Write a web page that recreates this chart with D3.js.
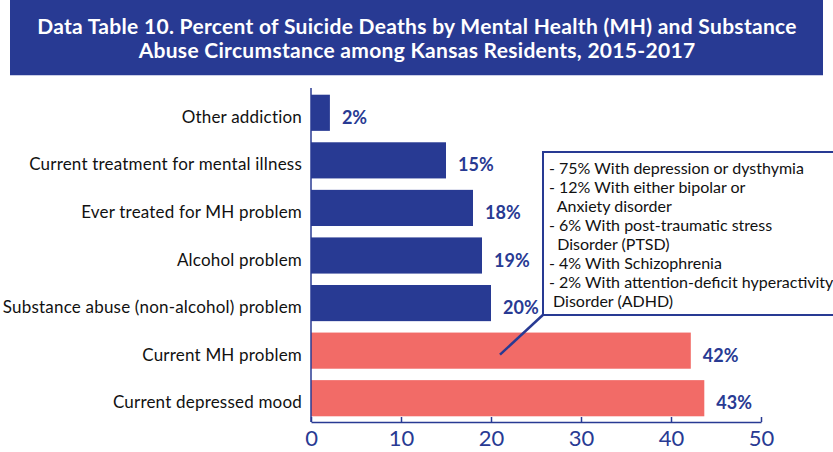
<!DOCTYPE html>
<html>
<head>
<meta charset="utf-8">
<script src="https://cdn.jsdelivr.net/npm/d3@7"></script>
<style>
  body { margin: 0; background: #fff; }
  svg { display: block; font-family: Lato, "Open Sans", sans-serif; }
</style>
</head>
<body>
<svg id="chart" width="833" height="452"></svg>
<script>
// data
const categories = ["Other addiction", "Current treatment for mental illness", "Ever treated for MH problem",
    "Alcohol problem", "Substance abuse (non-alcohol) problem", "Current MH problem", "Current depressed mood"];
const values = [2.1, 15, 18, 19, 20, 42.2, 43.7];
const valueLabels = ["2%", "15%", "18%", "19%", "20%", "42%", "43%"];
const groups = ["other", "other", "other", "other", "other", "mh", "mh"];
const xTicks = [0, 10, 20, 30, 40, 50];
const titleLines = ["Data Table 10. Percent of Suicide Deaths by Mental Health (MH) and Substance",
    "Abuse Circumstance among Kansas Residents, 2015-2017"];
const noteLines = ["- 75% With depression or dysthymia", "- 12% With either bipolar or", "  Anxiety disorder",
    "- 6% With post-traumatic stress", "  Disorder (PTSD)", "- 4% With Schizophrenia",
    "- 2% With attention-deficit hyperactivity", " Disorder (ADHD)"];

const navy = "#283a93";
const pink = "#f26b67";

const svg = d3.select("#chart");

// title banner
svg.append("rect")
    .attr("x", 10).attr("y", 0)
    .attr("width", 813).attr("height", 75)
    .attr("fill", navy);
svg.append("line")
    .attr("x1", 10).attr("x2", 823)
    .attr("y1", 75.5).attr("y2", 75.5)
    .attr("stroke", "#c9cde6");

svg.append("g").selectAll("text")
    .data(titleLines)
    .join("text")
    .attr("x", 417)
    .attr("y", (d, i) => 34 + i * 24)
    .attr("text-anchor", "middle")
    .attr("fill", "#fff")
    .style("font-size", "21px")
    .style("font-weight", "bold")
    .style("letter-spacing", "0.3px")
    .text(d => d);

// scales
const x = d3.scaleLinear().domain([0, 50]).range([311, 761]);
const y = d3.scaleBand().domain(categories).range([89, 422]).paddingInner(0.24).paddingOuter(0.12);

// bars
svg.append("g").selectAll("rect")
    .data(categories)
    .join("rect")
    .attr("x", x(0))
    .attr("y", d => y(d))
    .attr("width", (d, i) => x(values[i]) - x(0))
    .attr("height", y.bandwidth())
    .attr("fill", (d, i) => groups[i] === "mh" ? pink : navy);

// value labels
svg.append("g").selectAll("text")
    .data(categories)
    .join("text")
    .attr("x", (d, i) => x(values[i]) + 12)
    .attr("y", d => y(d) + y.bandwidth() / 2 + 11)
    .attr("fill", navy)
    .style("font-size", "18px")
    .style("font-weight", "bold")
    .text((d, i) => valueLabels[i]);

// category labels
svg.append("g").selectAll("text")
    .data(categories)
    .join("text")
    .attr("x", 302)
    .attr("y", d => y(d) + y.bandwidth() / 2 + 10)
    .attr("text-anchor", "end")
    .attr("fill", "#111")
    .style("font-size", "17px")
    .style("letter-spacing", "0.2px")
    .text(d => d);

// x axis, ticks point up into the plot
const xAxis = svg.append("g")
    .attr("transform", "translate(0,422)")
    .call(d3.axisBottom(x).tickValues(xTicks).tickSizeInner(-5).tickSizeOuter(0).tickPadding(8));
xAxis.select(".domain").attr("stroke", navy).attr("stroke-width", 1.5);
xAxis.selectAll(".tick line").attr("stroke", navy).attr("stroke-width", 1.5);
xAxis.selectAll(".tick text")
    .attr("fill", navy)
    .style("font-family", "Lato, sans-serif")
    .style("font-size", "22px");

// y axis line
svg.append("line")
    .attr("x1", x(0)).attr("x2", x(0))
    .attr("y1", 88).attr("y2", 422)
    .attr("stroke", navy).attr("stroke-width", 1.5);

// note box with pointer to the MH bar
const noteGroup = svg.append("g");
noteGroup.append("line")
    .attr("x1", 545).attr("y1", 313)
    .attr("x2", x(21)).attr("y2", y("Current MH problem") + y.bandwidth() / 2 + 4)
    .attr("stroke", navy).attr("stroke-width", 2.5);
noteGroup.append("rect")
    .attr("x", 543).attr("y", 152)
    .attr("width", 300).attr("height", 163)
    .attr("fill", "#fff")
    .attr("stroke", navy).attr("stroke-width", 2);
noteGroup.selectAll("text")
    .data(noteLines)
    .join("text")
    .attr("x", 549)
    .attr("y", (d, i) => 174 + i * 19)
    .attr("fill", "#111")
    .style("font-size", "16px")
    .style("white-space", "pre")
    .text(d => d);
</script>
</body>
</html>
